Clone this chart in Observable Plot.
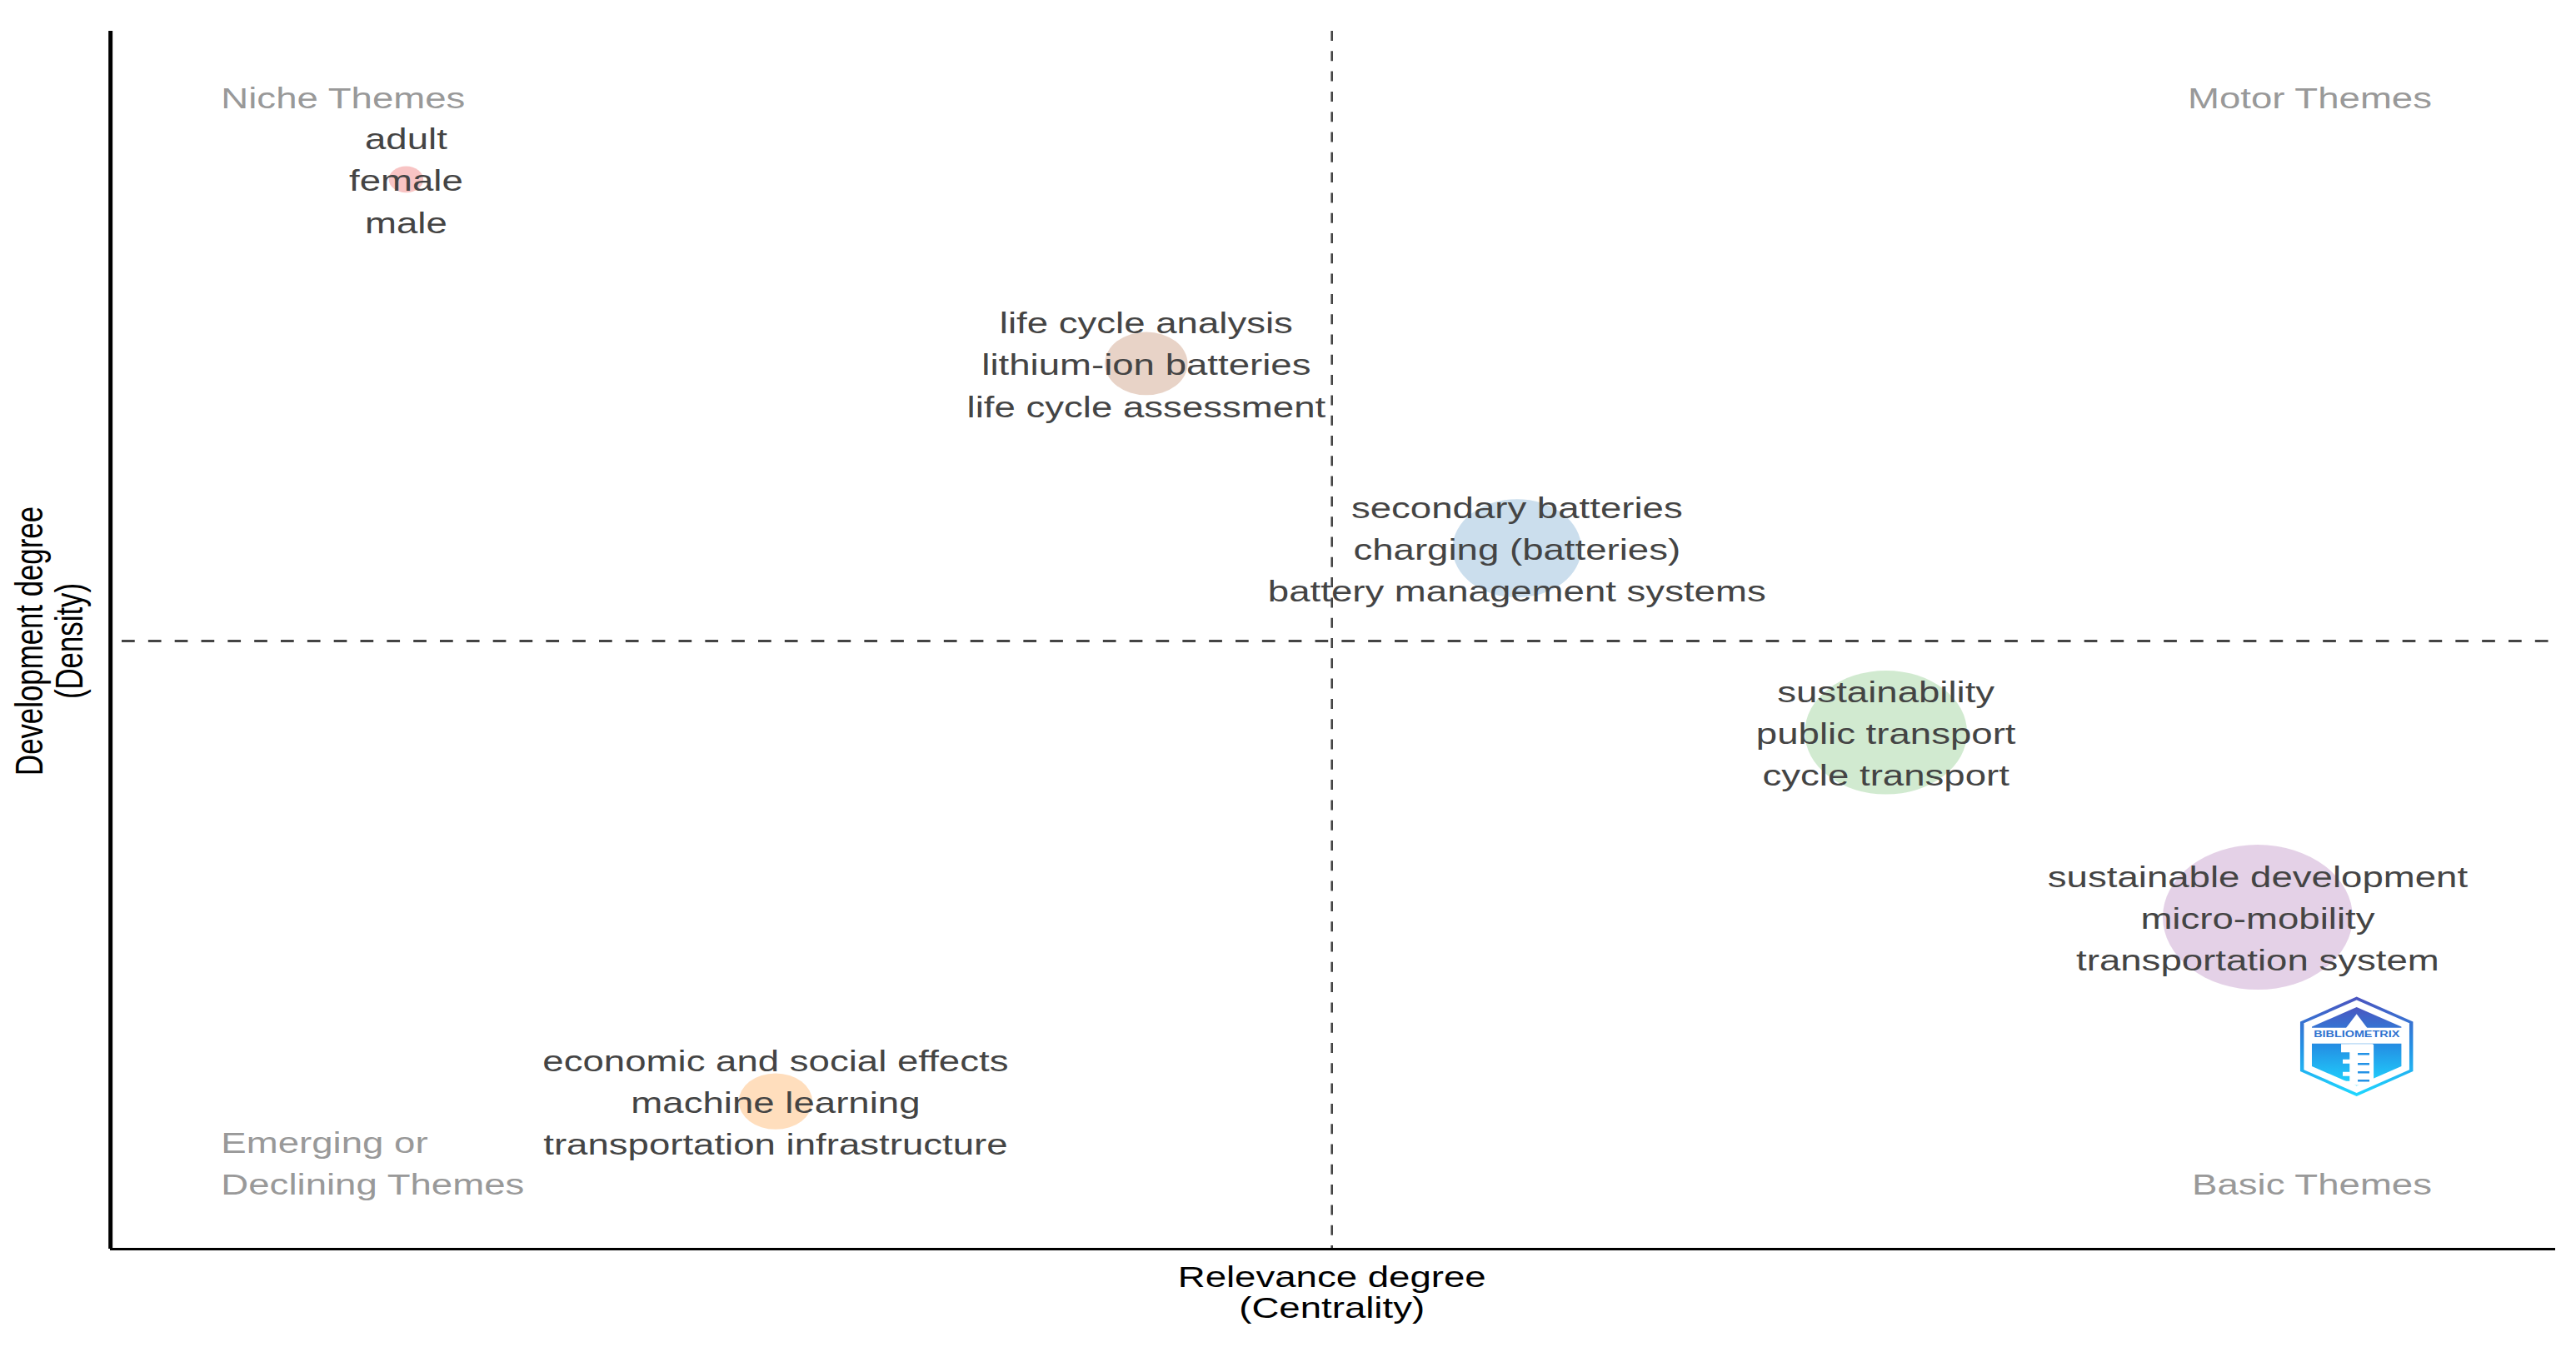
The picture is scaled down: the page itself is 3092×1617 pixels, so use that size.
<!DOCTYPE html>
<html><head><meta charset="utf-8">
<script src="https://cdn.jsdelivr.net/npm/d3@7"></script>
<script src="https://cdn.jsdelivr.net/npm/@observablehq/plot@0.6"></script>
<style>html,body{margin:0;padding:0;background:#fff}svg{display:block}</style>
</head><body><div id="chart"></div>
<script>
const clusters = ["adult","life cycle analysis","secondary batteries","sustainability","sustainable development","economic and social effects"];
const centrality = [-0.758,-0.152,0.1515,0.4536,0.758,-0.4555];
const density = [0.757,0.455,0.152,-0.150,-0.453,-0.755];
const frequency = [3.3,19,46,73,100,15];
const terms = [
  ["adult","female","male"],
  ["life cycle analysis","lithium-ion batteries","life cycle assessment"],
  ["secondary batteries","charging (batteries)","battery management systems"],
  ["sustainability","public transport","cycle transport"],
  ["sustainable development","micro-mobility","transportation system"],
  ["economic and social effects","machine learning","transportation infrastructure"]
];
const clusterColors = ["#E41A1C","#A65628","#377EB8","#4DAF4A","#984EA3","#FF7F00"];
const quadrantsLeft = [["Niche Themes",-0.9095,0.889]];
const quadrantsLeft2 = [["Emerging or\nDeclining Themes",-0.9095,-0.852]];
const quadrantsRight = [["Motor Themes",0.9006,0.889],["Basic Themes",0.9006,-0.892]];
const logoAt = [[0.839,-0.665]];
const xLabel = "Relevance degree\n(Centrality)";
const yLabel = "Development degree\n(Density)";

const W = 3092, H = 1617, K = 1.31, FS = 34.8;
const font = "Liberation Sans, Arial, sans-serif";
const rows = clusters.map((c,i)=>({c,x:centrality[i],y:density[i],f:frequency[i],t:terms[i].join("\n")}));

const defs = () => {
  const s = d3.create("svg:defs");
  const g = s.append("linearGradient").attr("id","logoGrad").attr("x1",0).attr("y1",0).attr("x2",0).attr("y2",1);
  g.append("stop").attr("offset","0%").attr("stop-color","#4a55c0");
  g.append("stop").attr("offset","50%").attr("stop-color","#2490e4");
  g.append("stop").attr("offset","100%").attr("stop-color","#1fd6ff");
  return s.node();
};
const lx = logoAt[0][0], ly = logoAt[0][1];
const ox = p => lx + p/1466, oy = p => ly + p/732;

const svg = Plot.plot({
  width: W/K, height: H,
  marginLeft: 132/K, marginRight: 25/K, marginTop: 37, marginBottom: 118,
  style: {fontFamily: font, background: "#fff"},
  x: {domain:[-1,1.002], axis:null},
  y: {domain:[-0.9973,1], axis:null},
  r: {type:"sqrt", domain:[0,100], range:[0,87]},
  color: {domain: clusters, range: clusterColors},
  marks: [
    defs,
    Plot.ruleX([0],{stroke:"#444",strokeWidth:2,strokeDasharray:"12,12.3"}),
    Plot.ruleY([0],{stroke:"#444",strokeWidth:2.8,strokeDasharray:"12,12.3",strokeDashoffset:-10.7}),
    Plot.ruleX([-1],{stroke:"#000",strokeWidth:3.8}),
    Plot.ruleY([-0.9973],{stroke:"#000",strokeWidth:3}),
    Plot.dot(rows,{x:"x",y:"y",r:"f",fill:"c",fillOpacity:0.26,stroke:"none"}),
    Plot.text(rows,{x:"x",y:"y",dy:-2,text:"t",fill:"#444",fontSize:FS,fontFamily:font,lineHeight:1.44,textAnchor:"middle"}),
    Plot.text(quadrantsLeft,{x:d=>d[1],y:d=>d[2],text:d=>d[0],fill:"#999",fontSize:FS,fontFamily:font,textAnchor:"start"}),
    Plot.text(quadrantsLeft2,{x:d=>d[1],y:d=>d[2],text:d=>d[0],fill:"#999",fontSize:FS,fontFamily:font,lineHeight:1.43,textAnchor:"start"}),
    Plot.text(quadrantsRight,{x:d=>d[1],y:d=>d[2],text:d=>d[0],fill:"#999",fontSize:FS,fontFamily:font,textAnchor:"end"}),
    Plot.text([xLabel],{x:[0],frameAnchor:"bottom",dy:82,text:d=>d,fill:"#000",fontSize:FS,fontFamily:font,lineHeight:1.05,textAnchor:"middle"}),
    Plot.text([yLabel],{y:[0],frameAnchor:"left",dx:-132/K+38/K+20/K+1,text:d=>d,fill:"#000",fontSize:FS,fontFamily:font,lineHeight:1.05,rotate:-90,textAnchor:"middle"}),
    // Bibliometrix badge (offsets are measured upward from the badge centre)
    Plot.dot(logoAt,{x:d=>d[0],y:d=>d[1],r:50,symbol:"hexagon",fill:"none",stroke:"url(#logoGrad)",strokeWidth:3.4}),
    Plot.dot(logoAt,{x:d=>d[0],y:d=>d[1],r:41,symbol:"hexagon",fill:"url(#logoGrad)",stroke:"none"}),
    Plot.ruleY([oy(13)],{x1:ox(-57),x2:ox(57),stroke:"#fff",strokeWidth:19}),
    Plot.dot(logoAt,{x:d=>d[0],y:()=>oy(25),r:9,symbol:"triangle",fill:"#fff",stroke:"none"}),
    Plot.text(["BIBLIOMETRIX"],{x:[lx],y:[oy(15)],text:d=>d,fill:"#2f72cf",fontSize:11,fontWeight:"bold",fontFamily:font}),
    Plot.ruleY([oy(-2)],{x1:ox(-18),x2:ox(20),stroke:"#fff",strokeWidth:10}),
    Plot.ruleX([ox(6)],{y1:oy(2),y2:oy(-44),stroke:"#fff",strokeWidth:22}),
    Plot.ruleY([oy(-18),oy(-33),oy(-44)],{x1:ox(-16),x2:ox(10),stroke:"#fff",strokeWidth:5}),
    Plot.ruleY([oy(-9),oy(-21),oy(-31),oy(-41)],{x1:ox(2),x2:ox(16),stroke:"#2492e6",strokeWidth:2.5})
  ]
});
svg.setAttribute("preserveAspectRatio","none");
svg.setAttribute("width",W);
svg.setAttribute("height",H);
svg.style.width = W+"px";
svg.style.height = H+"px";
svg.style.maxWidth = "none";
document.getElementById("chart").appendChild(svg);
</script></body></html>
